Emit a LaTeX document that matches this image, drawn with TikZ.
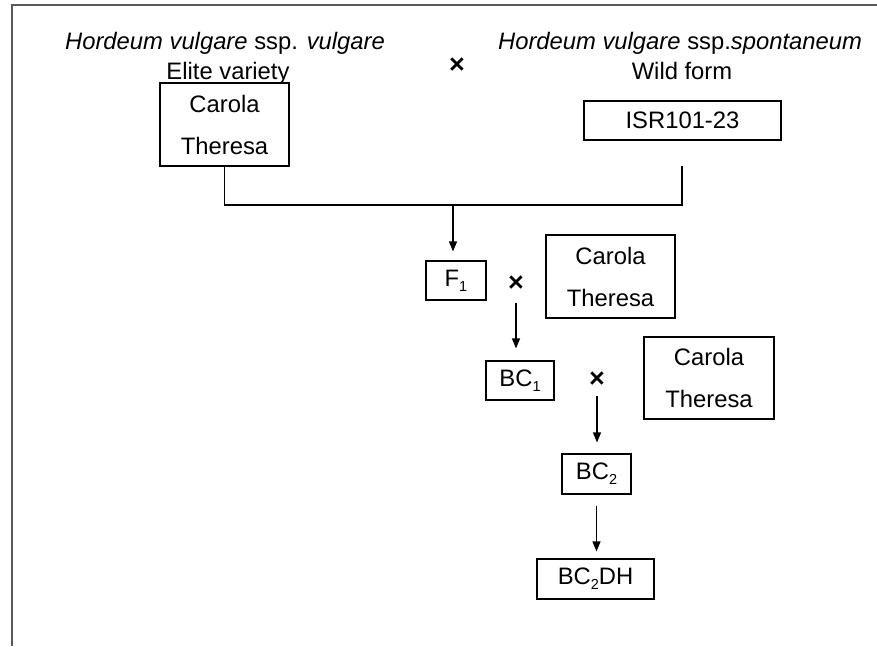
\documentclass[tikz,border=0pt]{standalone}
\usepackage{fontspec}
\setmainfont{Liberation Sans}
\usetikzlibrary{arrows.meta}
\newcommand{\lowsub}[1]{\raisebox{-5pt}{\fontsize{14.5}{14.5}\selectfont #1}}
\begin{document}
\begin{tikzpicture}[x=1pt,y=-1pt,
  every node/.style={font=\fontsize{23.8}{42}\selectfont, inner sep=0pt},
  box/.style={draw, line width=1.2pt, align=center, anchor=center},
  cross/.style={font=\fontsize{27}{30}\selectfont\bfseries},
  link/.style={line width=1.3pt},
  arr/.style={line width=1.3pt, -{Triangle[length=10pt,width=8pt]}},
  frame/.style={line width=2.2pt, draw=black!65}]
\useasboundingbox (0,0) rectangle (877,646);
% frame
\coordinate (fb) at (12,646);
\coordinate (ftl) at (12,5);
\coordinate (ftr) at (877,5);
\draw[frame] (fb) -- (ftl) -- (ftr);
% headings
\node[anchor=base] (h1) at (225,49) {\textit{Hordeum vulgare} ssp. \textit{vulgare}};
\node[anchor=base] (h2) at (228,79) {Elite variety};
\node[anchor=base] (h3) at (680,49) {\textit{Hordeum vulgare} ssp.\textit{spontaneum}};
\node[anchor=base] (h4) at (682,79) {Wild form};
\node[cross] (x1) at (457,66) {×};
% boxes
\node[box, minimum width=129pt, minimum height=83pt] (b1) at (224.5,124.5) {Carola\\Theresa};
\node[box, minimum width=197pt, minimum height=39pt] (isr) at (682.5,120.5) {ISR101-23};
\node[box, minimum width=60pt, minimum height=39pt] (f1) at (456,280.5) {F\lowsub{1}};
\node[cross] (x2) at (516,284) {×};
\node[box, minimum width=129pt, minimum height=83pt] (b2) at (610.5,276.5) {Carola\\Theresa};
\node[box, minimum width=68pt, minimum height=39pt] (bc1) at (520,380.5) {BC\lowsub{1}};
\node[cross] (x3) at (597,380) {×};
\node[box, minimum width=130pt, minimum height=82pt] (b3) at (709,378) {Carola\\Theresa};
\node[box, minimum width=69pt, minimum height=40pt] (bc2) at (596.5,474) {BC\lowsub{2}};
\node[box, minimum width=117pt, minimum height=40pt] (bc2dh) at (595.5,579) {BC\lowsub{2}DH};
% connectors
\coordinate (j) at (453,205);
\coordinate (rtop) at (682,166);
\draw[link] (b1.south) |- (j) -| (rtop);
\draw[arr, shorten >=9pt] (j) -- (j |- f1.north);
\draw[arr, shorten <=19pt, shorten >=12pt] (x2.center) -- (x2.center |- bc1.north);
\draw[arr, shorten <=16pt, shorten >=11pt] (x3.center) -- (x3.center |- bc2.north);
\draw[arr, shorten <=11pt, shorten >=7pt] (bc2.south) -- (bc2.south |- bc2dh.north);
\end{tikzpicture}
\end{document}
